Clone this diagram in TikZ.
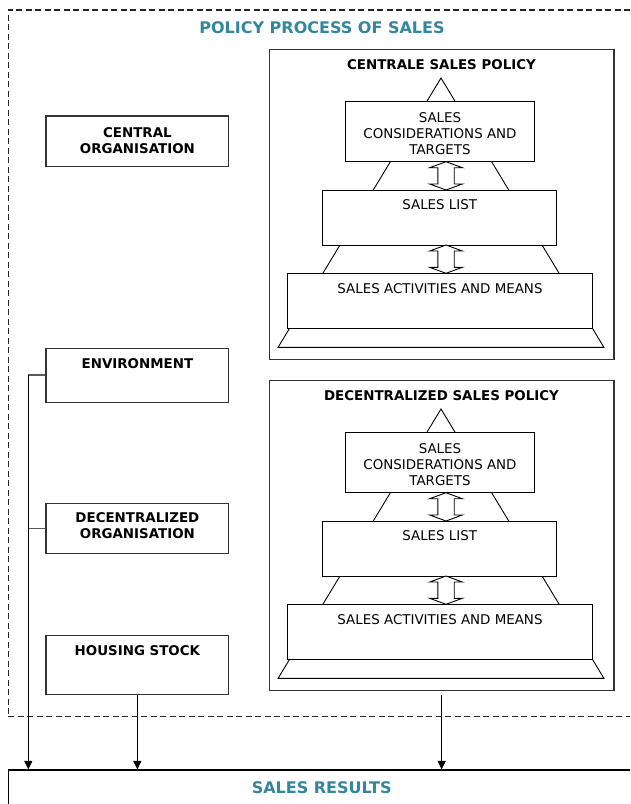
\documentclass[tikz,border=0pt]{standalone}
\usepackage{fontspec}
\setmainfont{DejaVu Sans}
\usetikzlibrary{arrows.meta}
\definecolor{headteal}{RGB}{50,135,158}

% box of given corners (x1,y1)-(x2,y2), y measured downwards
\newcommand\cornerbox[6]{%
  \node[#6, minimum width={#4-#2}, minimum height={#5-#3}] (#1)
    at ({(#2+#4)/2},{(#3+#5)/2}) {};}

% hollow two-headed arrow between two tiers
\newcommand\twoway[3]{%
  \draw[tierline, fill=white] (#1,#2) -- ({#1+16.3},{#2+6}) -- ({#1+8.2},{#2+6})
    -- ({#1+8.2},{#3-6}) -- ({#1+16.3},{#3-6}) -- (#1,#3) -- ({#1-16.3},{#3-6})
    -- ({#1-8.2},{#3-6}) -- ({#1-8.2},{#2+6}) -- ({#1-16.3},{#2+6}) -- cycle;}

% one policy panel with its three-tier pyramid
\newcommand\policypanel[3]{%
  \begin{scope}[shift={(0,#1)}]
    \cornerbox{#2panel}{269.3}{49.3}{614}{359.3}{panel}
    \node[blbl] (#2title) at (441.5,69.3) {#3};
    \coordinate (#2apex) at (441,78);
    \coordinate (#2baseL) at (278.1,347.3);
    \coordinate (#2baseR) at (603.9,347.3);
    \draw[tierline] (#2apex) -- (#2baseL) -- (#2baseR) -- cycle;
    \cornerbox{#2aims}{345.7}{101.7}{534}{161.7}{tier}
    \cornerbox{#2list}{322.7}{190}{556.7}{245}{tier}
    \cornerbox{#2means}{287.3}{273.3}{592.7}{328.3}{tier}
    \node[lbl, anchor=north] at (440,112.3) {SALES\\CONSIDERATIONS AND\\TARGETS};
    \node[lbl, anchor=north] at (439.7,199.5) {SALES LIST};
    \node[lbl, anchor=north] at (440,283.3) {SALES ACTIVITIES AND MEANS};
    \twoway{446}{161.7}{190}
    \twoway{446}{245}{273.3}
  \end{scope}}

\begin{document}
\begin{tikzpicture}[x=1pt, y=-1pt,
    panel/.style={draw=black!80, line width=1.2pt, inner sep=0pt},
    sidebox/.style={draw=black!80, line width=1.2pt, inner sep=0pt},
    tier/.style={draw=black, line width=1pt, fill=white, inner sep=0pt},
    tierline/.style={draw=black, line width=0.9pt},
    lbl/.style={font=\fontsize{13.4}{16}\selectfont, align=center, inner sep=0pt},
    blbl/.style={font=\fontsize{13.4}{16}\selectfont\bfseries, align=center, inner sep=0pt, anchor=base},
    head/.style={font=\fontsize{16}{19}\selectfont\bfseries, text=headteal, inner sep=0pt, anchor=base},
    flow/.style={draw=black, line width=1.1pt, -{Triangle[length=8.5pt,width=8pt]}},
    feed/.style={draw=black!65, line width=1.1pt}]

  \useasboundingbox (0,0) rectangle (630,804);
  \clip (0,0) rectangle (630,804);
  \fill[white] (0,0) rectangle (630,804);

  % dashed frame of the policy process and the results strip
  \cornerbox{process}{8.3}{10}{650}{716.7}{draw=black!85, line width=1.3pt, dash pattern=on 6pt off 3.5pt, inner sep=0pt}
  \node[head] (processtitle) at (322,33.3) {POLICY PROCESS OF SALES};
  \cornerbox{results}{8.3}{770}{650}{830}{draw=black, line width=1.2pt, inner sep=0pt}
  \node[head] (resultstitle) at (321.7,793.3) {SALES RESULTS};

  % actors on the left
  \cornerbox{central}{46}{116}{228.7}{166.7}{sidebox}
  \node[blbl, anchor=north] at (137.4,127.3) {CENTRAL\\ORGANISATION};
  \cornerbox{env}{46}{348.3}{228.7}{402.7}{sidebox}
  \node[blbl, anchor=north] at (137.4,358) {ENVIRONMENT};
  \cornerbox{decorg}{46}{503.3}{228.7}{553.3}{sidebox}
  \node[blbl, anchor=north] at (137.4,512.8) {DECENTRALIZED\\ORGANISATION};
  \cornerbox{housing}{46}{635.3}{228.7}{694.3}{sidebox}
  \node[blbl, anchor=north] at (137.4,645) {HOUSING STOCK};

  % the two policy levels
  \policypanel{0}{c}{CENTRALE SALES POLICY}
  \policypanel{331}{d}{DECENTRALIZED SALES POLICY}

  % connectors into the results
  \coordinate (bus) at (28.3,375);
  \draw[feed] (env.west |- bus) -- (bus);
  \draw[feed] (decorg.west) -- (bus |- decorg.west);
  \draw[flow] (bus) -- (bus |- results.north);
  \draw[flow] (housing.south) -- (housing.south |- results.north);
  \draw[flow, shorten <=4pt] (dpanel.south) -- (dpanel.south |- results.north);
\end{tikzpicture}
\end{document}
